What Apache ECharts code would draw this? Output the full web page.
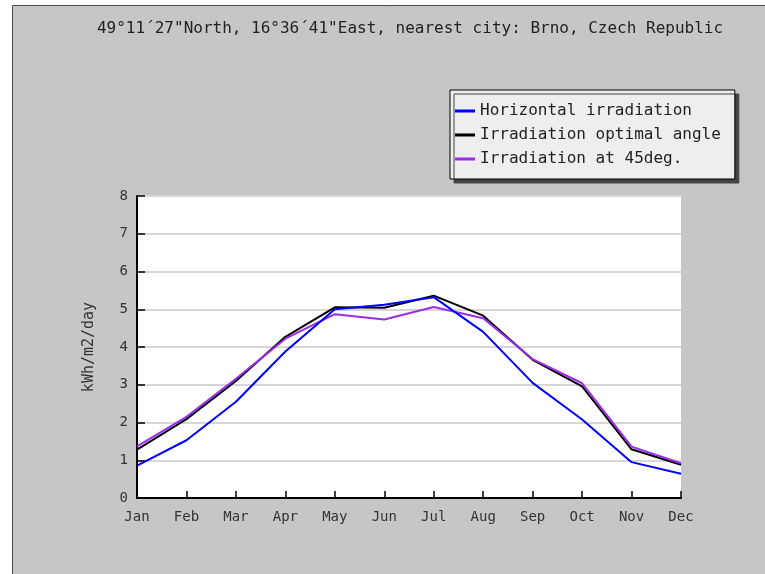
<!DOCTYPE html>
<html>
<head>
<meta charset="utf-8">
<script src="https://cdn.jsdelivr.net/npm/echarts@6/dist/echarts.min.js"></script>
<style>
html,body{margin:0;padding:0;background:#fff;}
#chart{width:765px;height:574px;}
</style>
</head>
<body>
<div id="chart"></div>
<script>
var months = ['Jan','Feb','Mar','Apr','May','Jun','Jul','Aug','Sep','Oct','Nov','Dec'];
var horizontal = [0.86, 1.53, 2.55, 3.88, 5.00, 5.12, 5.32, 4.40, 3.05, 2.08, 0.95, 0.64];
var optimal    = [1.28, 2.09, 3.10, 4.27, 5.05, 5.04, 5.36, 4.83, 3.66, 2.96, 1.29, 0.88];
var deg45      = [1.37, 2.15, 3.16, 4.22, 4.87, 4.73, 5.06, 4.76, 3.68, 3.04, 1.36, 0.92];
var yTicks = [0, 1, 2, 3, 4, 5, 6, 7, 8];
var titleText = '49°11´27"North, 16°36´41"East, nearest city: Brno, Czech Republic';

var mono = '"DejaVu Sans Mono", "Liberation Mono", monospace';
var chart = echarts.init(document.getElementById('chart'), null, {renderer: 'canvas'});
chart.setOption({
  backgroundColor: '#fff',
  animation: false,
  graphic: [{
    type: 'rect', z: -10, silent: true,
    shape: {x: 12.5, y: 5.5, width: 770, height: 600},
    style: {fill: '#c6c6c6', stroke: '#4a4a4a', lineWidth: 1}
  }],
  title: {
    text: titleText,
    left: 405, top: 16, textAlign: 'center',
    textStyle: {fontFamily: mono, fontSize: 16, fontWeight: 'normal', color: '#222'}
  },
  legend: {
    orient: 'vertical',
    left: 450, top: 90,
    padding: [13, 14, 12, 5],
    icon: 'rect',
    itemWidth: 20, itemHeight: 3, itemGap: 8,
    backgroundColor: '#eeeeee',
    borderColor: '#000', borderWidth: 1,
    shadowColor: '#444', shadowBlur: 0, shadowOffsetX: 4, shadowOffsetY: 4,
    textStyle: {fontFamily: mono, fontSize: 16, color: '#222'},
    data: ['Horizontal irradiation', 'Irradiation optimal angle', 'Irradiation at 45deg.']
  },
  grid: {
    left: 137, right: 84, top: 196, bottom: 76,
    show: true, backgroundColor: '#fff', borderWidth: 0
  },
  xAxis: {
    type: 'category', data: months, boundaryGap: false,
    axisLine: {lineStyle: {color: '#000', width: 2}},
    axisTick: {inside: true, length: 7, lineStyle: {color: '#000', width: 1.5}},
    axisLabel: {fontFamily: mono, fontSize: 14, color: '#333', margin: 12}
  },
  yAxis: {
    type: 'value', min: yTicks[0], max: yTicks[yTicks.length - 1], interval: 1,
    name: 'kWh/m2/day', nameLocation: 'middle', nameGap: 40, nameRotate: 90,
    nameTextStyle: {fontFamily: mono, fontSize: 15, color: '#333'},
    axisLine: {show: true, lineStyle: {color: '#000', width: 2}},
    axisTick: {show: true, inside: true, length: 8, lineStyle: {color: '#000', width: 1.5}},
    axisLabel: {fontFamily: mono, fontSize: 14, color: '#333', margin: 9},
    splitLine: {show: true, lineStyle: {color: '#d6d6d6', width: 2}}
  },
  series: [
    {name: 'Horizontal irradiation', type: 'line', data: horizontal, symbol: 'none',
     lineStyle: {color: '#0000ff', width: 2}, itemStyle: {color: '#0000ff'}, z: 3},
    {name: 'Irradiation optimal angle', type: 'line', data: optimal, symbol: 'none',
     lineStyle: {color: '#000000', width: 2}, itemStyle: {color: '#000000'}, z: 2},
    {name: 'Irradiation at 45deg.', type: 'line', data: deg45, symbol: 'none',
     lineStyle: {color: '#9a2cf0', width: 2}, itemStyle: {color: '#9a2cf0'}, z: 2}
  ]
});
</script>
</body>
</html>
